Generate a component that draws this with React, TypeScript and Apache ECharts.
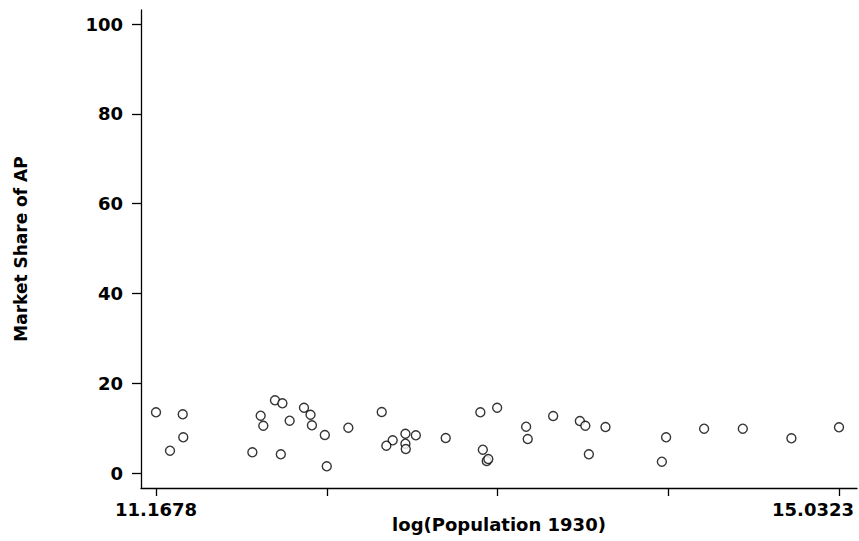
import React, { useEffect, useRef } from "react";
import * as echarts from "echarts";

const popLog: number[] = [
  11.1678, 11.319, 11.322, 11.247, 11.713, 11.76, 11.775, 11.841, 11.883, 11.874,
  11.924, 12.005, 12.042, 12.05, 12.123, 12.134, 12.256, 12.445, 12.507, 12.471,
  12.579, 12.579, 12.581, 12.638, 12.807, 13.003, 13.098, 13.017, 13.039, 13.048,
  13.262, 13.271, 13.415, 13.566, 13.597, 13.617, 13.711, 14.054, 14.03, 14.269,
  14.488, 14.763, 15.0323,
];
const apShare: number[] = [
  13.52, 13.07, 7.95, 4.97, 4.61, 12.76, 10.53, 16.19, 15.52, 4.16,
  11.65, 14.54, 12.98, 10.62, 8.46, 1.49, 10.09, 13.59, 7.28, 6.08,
  8.75, 6.53, 5.35, 8.4, 7.8, 13.52, 14.54, 5.19, 2.67, 3.12,
  10.31, 7.57, 12.69, 11.58, 10.53, 4.16, 10.24, 7.95, 2.52, 9.87,
  9.87, 7.73, 10.18,
];
const xTicks: number[] = [11.1678, 12.1339, 13.1001, 14.0662, 15.0323];
const xTickLabels: number[] = [11.1678, 15.0323];
const yTicks: number[] = [0, 20, 40, 60, 80, 100];

const FONT = "'DejaVu Sans', 'Liberation Sans', Arial, sans-serif";

export default function App() {
  const ref = useRef<HTMLDivElement>(null);
  useEffect(() => {
    if (!ref.current) return;
    const chart = echarts.init(ref.current, null, { renderer: "svg" });
    const axisLine = { show: true, onZero: false, lineStyle: { color: "#000", width: 1.3 } };
    const lastLabel = xTickLabels[xTickLabels.length - 1];
    chart.setOption({
      animation: false,
      backgroundColor: "#fff",
      grid: {
        left: 141,
        right: 2,
        top: 10,
        bottom: 53,
        containLabel: false,
        outerBoundsMode: "none",
      },
      xAxis: {
        type: "value",
        min: 11.0829,
        max: 15.1341,
        name: "log(Population 1930)",
        nameLocation: "middle",
        nameGap: 27,
        nameMoveOverlap: false,
        nameTextStyle: { color: "#000", fontFamily: FONT, fontWeight: "bold", fontSize: 18 },
        axisLine,
        splitLine: { show: false },
        axisTick: { show: true, customValues: xTicks, length: 8, lineStyle: { color: "#000", width: 1.3 } },
        axisLabel: {
          customValues: xTickLabels,
          color: "#000",
          fontFamily: FONT,
          fontWeight: "bold",
          fontSize: 18,
          margin: 12,
          formatter: (v: number) =>
            Math.abs(v - lastLabel) < 1e-6 ? "{r|" + v.toFixed(4) + "}" : v.toFixed(4),
          rich: {
            r: {
              color: "#000",
              fontFamily: FONT,
              fontWeight: "bold",
              fontSize: 18,
              padding: [0, 52, 0, 0],
            },
          },
        },
      },
      yAxis: {
        type: "value",
        min: -3.34,
        max: 103.12,
        name: "Market Share of AP",
        nameLocation: "middle",
        nameRotate: 90,
        nameGap: 112,
        nameMoveOverlap: false,
        nameTextStyle: { color: "#000", fontFamily: FONT, fontWeight: "bold", fontSize: 17 },
        axisLine,
        splitLine: { show: false },
        axisTick: { show: true, customValues: yTicks, length: 9, lineStyle: { color: "#000", width: 1.3 } },
        axisLabel: {
          customValues: yTicks,
          color: "#000",
          fontFamily: FONT,
          fontWeight: "bold",
          fontSize: 18,
          margin: 18,
        },
      },
      series: [
        {
          type: "scatter",
          data: popLog.map((x, i) => [x, apShare[i]]),
          symbol: "circle",
          symbolSize: 9,
          itemStyle: { color: "#fff", borderColor: "#000", borderWidth: 1.4 },
          emphasis: { disabled: true },
        },
      ],
    });
    return () => chart.dispose();
  }, []);
  return (
    <div
      ref={ref}
      style={{ position: "absolute", left: 0, top: 0, width: 859, height: 541 }}
    />
  );
}
